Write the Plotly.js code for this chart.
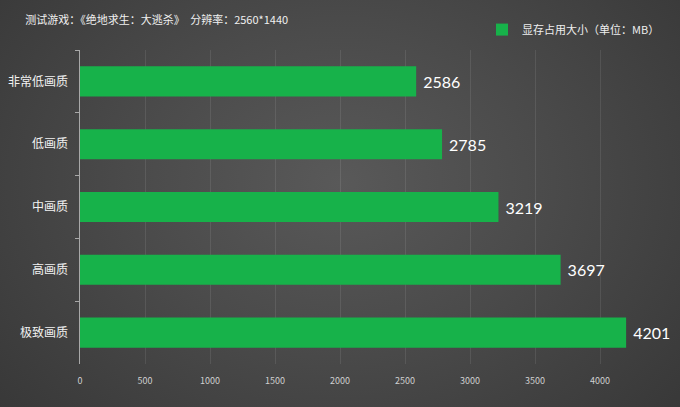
<!DOCTYPE html>
<html><head><meta charset="utf-8">
<script src="https://cdn.plot.ly/plotly-3.0.1.min.js"></script>
<style>
html,body{margin:0;padding:0;}
body{width:680px;height:407px;overflow:hidden;
background:radial-gradient(ellipse 70% 90% at 50% 45%, #595959 0%, #4a4a4a 45%, #363636 100%);}
#chart{width:680px;height:407px;}
</style></head>
<body><div id="chart"></div>
<script>
const categories = ["非常低画质", "低画质", "中画质", "高画质", "极致画质"];
const vram = [2586, 2785, 3219, 3697, 4201];
const xTicks = [0, 500, 1000, 1500, 2000, 2500, 3000, 3500, 4000];
const seriesName = "显存占用大小（单位：MB）";
const titleText = "测试游戏：《绝地求生：大逃杀》　分辨率：2560*1440";

const cjk = '"Noto Sans CJK SC", "Noto Sans", sans-serif';
const trace = {
  type: 'bar', orientation: 'h',
  y: categories, x: vram, name: seriesName,
  marker: {color: '#17b24a', line: {color: '#0d5e27', width: 0}},
  text: vram.map(v => '\u2005' + v), textposition: 'outside',
  textfont: {color: '#ffffff', size: 16, family: 'Lato, "Open Sans", sans-serif'},
  cliponaxis: false, width: 0.48
};
const layout = {
  width: 680, height: 407,
  paper_bgcolor: 'rgba(0,0,0,0)', plot_bgcolor: 'rgba(0,0,0,0)',
  margin: {l: 80, r: 15, t: 50, b: 43},
  font: {family: cjk, color: '#e8e8e8'},
  title: {text: titleText, x: 0.037, xanchor: 'left', y: 0.95, yanchor: 'middle',
          font: {size: 11, color: '#f0f0f0', family: cjk}},
  showlegend: true,
  legend: {x: 1, xanchor: 'right', y: 1.065, yanchor: 'middle', orientation: 'h',
           font: {size: 11, color: '#eeeeee', family: cjk}, bgcolor: 'rgba(0,0,0,0)',
           itemwidth: 30},
  xaxis: {range: [0, 4500], tickvals: xTicks, ticktext: xTicks.map(String),
          showgrid: true, gridcolor: 'rgba(255,255,255,0.09)', gridwidth: 1,
          zeroline: false, showline: false, ticks: '', ticklabelstandoff: 10,
          tickfont: {size: 9, color: '#d0d0d0', family: cjk}},
  yaxis: {autorange: 'reversed', type: 'category', showline: true, linecolor: '#a8a8a8', linewidth: 1.5,
          ticks: 'outside', tickson: 'boundaries', ticklen: 4, tickcolor: '#a8a8a8',
          showgrid: false, ticklabelstandoff: 8,
          tickfont: {size: 12, color: '#f2f2f2', family: cjk}},
  bargap: 0.52
};
Plotly.newPlot('chart', [trace], layout, {displayModeBar: false, staticPlot: true});
</script></body></html>
